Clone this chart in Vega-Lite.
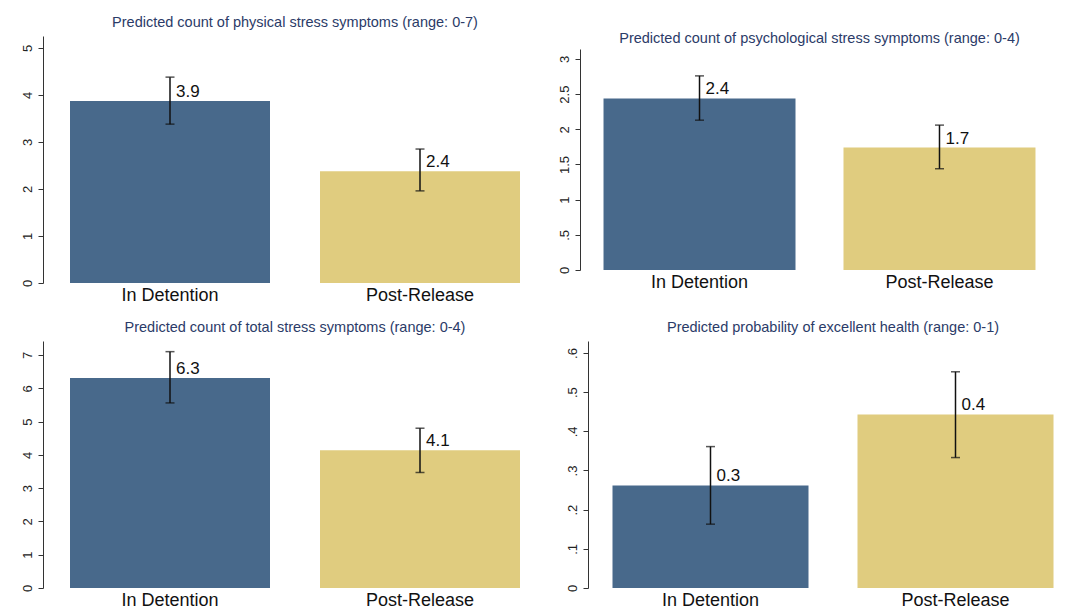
{
  "$schema": "https://vega.github.io/schema/vega-lite/v6.json",
  "background": "white",
  "padding": {"left": 20, "top": 14, "right": 0, "bottom": 0},
  "config": {
    "font": "Liberation Sans",
    "view": {"stroke": null},
    "axisX": {"domain": false, "ticks": false, "labelAngle": 0, "labelFontSize": 18, "labelColor": "#111", "title": null, "labelPadding": 3},
    "axisY": {"labelAngle": -90, "labelFontSize": 13, "labelColor": "#222", "tickSize": 5, "tickColor": "#333", "domainColor": "#333", "grid": false, "title": null, "labelPadding": 4, "labelOverlap": false,
      "labelExpr": "datum.value > 0 && datum.value < 1 ? slice(format(datum.value, '~g'), 1) : format(datum.value, '~g')"},
    "title": {"fontSize": 14.5, "fontWeight": "normal", "color": "#2b3b68", "anchor": "middle", "offset": 6}
  },
  "datasets": {
    "p1": [
      {"group": "In Detention", "value": 3.87, "lo": 3.38, "hi": 4.38},
      {"group": "Post-Release", "value": 2.38, "lo": 1.96, "hi": 2.85}
    ],
    "p2": [
      {"group": "In Detention", "value": 2.44, "lo": 2.13, "hi": 2.76},
      {"group": "Post-Release", "value": 1.74, "lo": 1.44, "hi": 2.06}
    ],
    "p3": [
      {"group": "In Detention", "value": 6.31, "lo": 5.56, "hi": 7.10},
      {"group": "Post-Release", "value": 4.14, "lo": 3.47, "hi": 4.80}
    ],
    "p4": [
      {"group": "In Detention", "value": 0.262, "lo": 0.163, "hi": 0.361},
      {"group": "Post-Release", "value": 0.443, "lo": 0.333, "hi": 0.552}
    ]
  },
  "spacing": 15,
  "vconcat": [
    {
      "spacing": 11,
      "hconcat": [
        {
          "width": 504, "height": 247,
          "title": {"text": "Predicted count of physical stress symptoms (range: 0-7)"},
          "data": {"name": "p1"},
          "encoding": {"x": {"field": "group", "type": "nominal", "sort": null, "scale": {"paddingInner": 0.2, "paddingOuter": 0.108}}},
          "layer": [
            {"mark": {"type": "bar"},
             "encoding": {
               "y": {"field": "value", "type": "quantitative", "scale": {"domain": [0, 5.255], "nice": false, "zero": true}, "axis": {"values": [0, 1, 2, 3, 4, 5]}},
               "color": {"field": "group", "type": "nominal", "scale": {"range": ["#48698b", "#e0cc7f"]}, "legend": null}}},
            {"mark": {"type": "rule", "strokeWidth": 1.5, "color": "#111"},
             "encoding": {"y": {"field": "lo", "type": "quantitative", "axis": {"values": [0, 1, 2, 3, 4, 5]}}, "y2": {"field": "hi"}}},
            {"mark": {"type": "tick", "orient": "horizontal", "size": 9, "thickness": 1.5, "color": "#111"},
             "encoding": {"y": {"field": "lo", "type": "quantitative", "axis": {"values": [0, 1, 2, 3, 4, 5]}}}},
            {"mark": {"type": "tick", "orient": "horizontal", "size": 9, "thickness": 1.5, "color": "#111"},
             "encoding": {"y": {"field": "hi", "type": "quantitative", "axis": {"values": [0, 1, 2, 3, 4, 5]}}}},
            {"mark": {"type": "text", "align": "left", "baseline": "alphabetic", "dx": 6, "dy": -4, "fontSize": 17, "color": "#111"},
             "encoding": {"y": {"field": "value", "type": "quantitative", "axis": {"values": [0, 1, 2, 3, 4, 5]}}, "text": {"field": "value", "type": "quantitative", "format": ".1f"}}}
          ]
        },
        {
          "width": 479, "height": 234,
          "title": {"text": "Predicted count of psychological stress symptoms (range: 0-4)", "dy": 16},
          "data": {"name": "p2"},
          "encoding": {"x": {"field": "group", "type": "nominal", "sort": null, "scale": {"paddingInner": 0.2, "paddingOuter": 0.098}}},
          "layer": [
            {"mark": {"type": "bar"},
             "encoding": {
               "y": {"field": "value", "type": "quantitative", "scale": {"domain": [0, 3.327], "nice": false, "zero": true}, "axis": {"values": [0, 0.5, 1, 1.5, 2, 2.5, 3], "domainDash": [221, 60]}},
               "color": {"field": "group", "type": "nominal", "scale": {"range": ["#48698b", "#e0cc7f"]}, "legend": null}}},
            {"mark": {"type": "rule", "strokeWidth": 1.5, "color": "#111"},
             "encoding": {"y": {"field": "lo", "type": "quantitative", "axis": {"values": [0, 0.5, 1, 1.5, 2, 2.5, 3], "domainDash": [221, 60]}}, "y2": {"field": "hi"}}},
            {"mark": {"type": "tick", "orient": "horizontal", "size": 9, "thickness": 1.5, "color": "#111"},
             "encoding": {"y": {"field": "lo", "type": "quantitative", "axis": {"values": [0, 0.5, 1, 1.5, 2, 2.5, 3], "domainDash": [221, 60]}}}},
            {"mark": {"type": "tick", "orient": "horizontal", "size": 9, "thickness": 1.5, "color": "#111"},
             "encoding": {"y": {"field": "hi", "type": "quantitative", "axis": {"values": [0, 0.5, 1, 1.5, 2, 2.5, 3], "domainDash": [221, 60]}}}},
            {"mark": {"type": "text", "align": "left", "baseline": "alphabetic", "dx": 6, "dy": -4, "fontSize": 17, "color": "#111"},
             "encoding": {"y": {"field": "value", "type": "quantitative", "axis": {"values": [0, 0.5, 1, 1.5, 2, 2.5, 3], "domainDash": [221, 60]}}, "text": {"field": "value", "type": "quantitative", "format": ".1f"}}}
          ]
        }
      ]
    },
    {
      "spacing": 18,
      "hconcat": [
        {
          "width": 504, "height": 247,
          "title": {"text": "Predicted count of total stress symptoms (range: 0-4)"},
          "data": {"name": "p3"},
          "encoding": {"x": {"field": "group", "type": "nominal", "sort": null, "scale": {"paddingInner": 0.2, "paddingOuter": 0.108}}},
          "layer": [
            {"mark": {"type": "bar"},
             "encoding": {
               "y": {"field": "value", "type": "quantitative", "scale": {"domain": [0, 7.42], "nice": false, "zero": true}, "axis": {"values": [0, 1, 2, 3, 4, 5, 6, 7]}},
               "color": {"field": "group", "type": "nominal", "scale": {"range": ["#48698b", "#e0cc7f"]}, "legend": null}}},
            {"mark": {"type": "rule", "strokeWidth": 1.5, "color": "#111"},
             "encoding": {"y": {"field": "lo", "type": "quantitative", "axis": {"values": [0, 1, 2, 3, 4, 5, 6, 7]}}, "y2": {"field": "hi"}}},
            {"mark": {"type": "tick", "orient": "horizontal", "size": 9, "thickness": 1.5, "color": "#111"},
             "encoding": {"y": {"field": "lo", "type": "quantitative", "axis": {"values": [0, 1, 2, 3, 4, 5, 6, 7]}}}},
            {"mark": {"type": "tick", "orient": "horizontal", "size": 9, "thickness": 1.5, "color": "#111"},
             "encoding": {"y": {"field": "hi", "type": "quantitative", "axis": {"values": [0, 1, 2, 3, 4, 5, 6, 7]}}}},
            {"mark": {"type": "text", "align": "left", "baseline": "alphabetic", "dx": 6, "dy": -4, "fontSize": 17, "color": "#111"},
             "encoding": {"y": {"field": "value", "type": "quantitative", "axis": {"values": [0, 1, 2, 3, 4, 5, 6, 7]}}, "text": {"field": "value", "type": "quantitative", "format": ".1f"}}}
          ]
        },
        {
          "width": 490, "height": 247,
          "title": {"text": "Predicted probability of excellent health (range: 0-1)"},
          "data": {"name": "p4"},
          "encoding": {"x": {"field": "group", "type": "nominal", "sort": null, "scale": {"paddingInner": 0.2, "paddingOuter": 0.1}}},
          "layer": [
            {"mark": {"type": "bar"},
             "encoding": {
               "y": {"field": "value", "type": "quantitative", "scale": {"domain": [0, 0.6306], "nice": false, "zero": true}, "axis": {"values": [0, 0.1, 0.2, 0.3, 0.4, 0.5, 0.6]}},
               "color": {"field": "group", "type": "nominal", "scale": {"range": ["#48698b", "#e0cc7f"]}, "legend": null}}},
            {"mark": {"type": "rule", "strokeWidth": 1.5, "color": "#111"},
             "encoding": {"y": {"field": "lo", "type": "quantitative", "axis": {"values": [0, 0.1, 0.2, 0.3, 0.4, 0.5, 0.6]}}, "y2": {"field": "hi"}}},
            {"mark": {"type": "tick", "orient": "horizontal", "size": 9, "thickness": 1.5, "color": "#111"},
             "encoding": {"y": {"field": "lo", "type": "quantitative", "axis": {"values": [0, 0.1, 0.2, 0.3, 0.4, 0.5, 0.6]}}}},
            {"mark": {"type": "tick", "orient": "horizontal", "size": 9, "thickness": 1.5, "color": "#111"},
             "encoding": {"y": {"field": "hi", "type": "quantitative", "axis": {"values": [0, 0.1, 0.2, 0.3, 0.4, 0.5, 0.6]}}}},
            {"mark": {"type": "text", "align": "left", "baseline": "alphabetic", "dx": 6, "dy": -4, "fontSize": 17, "color": "#111"},
             "encoding": {"y": {"field": "value", "type": "quantitative", "axis": {"values": [0, 0.1, 0.2, 0.3, 0.4, 0.5, 0.6]}}, "text": {"field": "value", "type": "quantitative", "format": ".1f"}}}
          ]
        }
      ]
    }
  ]
}
